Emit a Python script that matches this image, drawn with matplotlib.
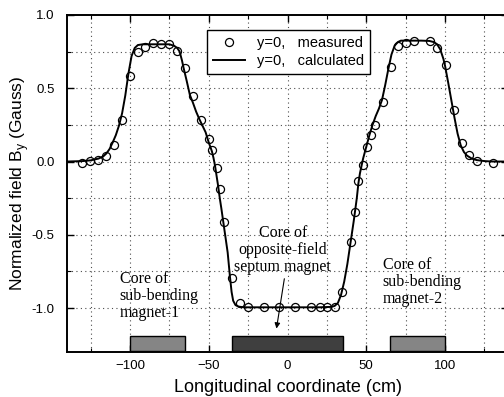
"""Normalized field B_y along the longitudinal coordinate."""

import matplotlib
matplotlib.use("agg")
import matplotlib.pyplot as plt
from matplotlib.patches import Rectangle
from matplotlib.ticker import MultipleLocator, FixedLocator, FormatStrFormatter

plt.rcParams["font.family"] = ["Liberation Sans", "DejaVu Sans"]

# measured points (cm, Gauss normalized)
meas_x = [-130.5, -125.5, -120.4, -115.3, -110.2, -105.1, -100.2, -95.1, -90.2,
          -85.2, -80.1, -75.0, -70.1, -65.2, -60.1, -55.0, -50.0, -47.7, -44.8,
          -42.7, -40.3, -35.2, -30.1, -24.9, -15.1, -5.1, 4.9, 15.1, 20.4, 25.3,
          30.0, 34.8, 40.1, 42.9, 45.0, 47.7, 50.4, 52.8, 55.5, 60.4, 65.4, 70.2,
          75.2, 80.4, 90.4, 95.2, 100.6, 105.4, 110.5, 115.4, 120.4, 130.4]
meas_y = [-0.007, 0.005, 0.009, 0.038, 0.11, 0.28, 0.587, 0.75, 0.78,
          0.81, 0.805, 0.80, 0.753, 0.638, 0.449, 0.28, 0.155, 0.079, -0.045,
          -0.185, -0.41, -0.795, -0.967, -0.996, -0.996, -0.996, -0.996, -0.996, -0.996, -0.996,
          -0.99, -0.891, -0.547, -0.345, -0.131, -0.023, 0.099, 0.178, 0.249, 0.406, 0.644, 0.787,
          0.811, 0.821, 0.821, 0.775, 0.66, 0.351, 0.127, 0.042, 0.005, -0.011]

# calculated curve
calc_x = [-140, -130, -125, -120, -117, -115, -113, -111, -109, -107, -105, -103,
          -101, -99, -97, -95, -92, -85, -80, -75, -72, -70, -68.5, -67, -66, -64,
          -62, -60, -58, -56, -54, -52, -50, -48, -47, -46, -45, -44, -43, -42, -40,
          -38, -36.5, -35.5, -34.5, -33, -31, -28, -20, 0, 20, 28, 30, 32, 34, 36,
          38, 40, 42, 44, 45, 46, 47, 48, 50, 52, 54, 56, 58, 60, 62, 64, 66, 68,
          70, 72, 75, 80, 85, 90, 93, 95, 97, 99, 100, 102, 104, 106, 108, 110,
          112, 114, 117, 120, 125, 130, 140]
calc_y = [0.0, 0.003, 0.008, 0.02, 0.035, 0.055, 0.085, 0.13, 0.18, 0.245, 0.33, 0.45,
          0.60, 0.72, 0.775, 0.795, 0.80, 0.80, 0.80, 0.80, 0.79, 0.775, 0.75, 0.69, 0.64, 0.55,
          0.455, 0.40, 0.34, 0.29, 0.245, 0.20, 0.13, 0.07, 0.025, -0.03, -0.10, -0.17, -0.25, -0.32, -0.47,
          -0.62, -0.79, -0.89, -0.95, -0.98, -0.99, -0.995, -0.995, -0.995, -0.995, -0.992, -0.985, -0.965, -0.91, -0.82,
          -0.70, -0.555, -0.41, -0.25, -0.15, -0.08, -0.03, 0.02, 0.10, 0.18, 0.25, 0.31, 0.36, 0.42, 0.52, 0.63, 0.73, 0.79,
          0.815, 0.825, 0.825, 0.825, 0.825, 0.823, 0.815, 0.80, 0.765, 0.70, 0.655, 0.54, 0.42, 0.30, 0.19, 0.11,
          0.065, 0.04, 0.02, 0.01, 0.003, 0.0, 0.0]

# magnet cores: (start, end, colour)
core_start = [-100, -35, 65]
core_end = [-65, 35, 100]
core_color = ["#858585", "#3f3f3f", "#858585"]
core_bottom, core_top = -1.29, -1.19

core_labels = ["Core of\nsub-bending\nmagnet-1",
               "Core of\nopposite-field\nseptum magnet",
               "Core of\nsub-bending\nmagnet-2"]

fig = plt.figure(figsize=(5.04, 3.97), dpi=100)
ax = fig.add_axes([67 / 504, 45 / 397, 441 / 504, 337 / 397])

ax.set_xlim(-140, 140)
ax.set_ylim(-1.3, 1.0)

ax.xaxis.set_major_locator(MultipleLocator(50))
ax.xaxis.set_minor_locator(MultipleLocator(25))
ax.yaxis.set_major_locator(MultipleLocator(0.5))
ax.yaxis.set_minor_locator(FixedLocator([-0.75, -0.25, 0.25, 0.75]))
ax.tick_params(which="both", direction="in", top=True, right=True, labelsize=9.5)
ax.tick_params(which="major", length=5, width=1.0)
ax.tick_params(which="minor", length=3, width=0.8)
ax.tick_params(axis="x", which="major", pad=6)
ax.tick_params(axis="y", which="major", pad=9)
ax.yaxis.set_major_formatter(FormatStrFormatter("%.1f"))
for sp in ax.spines.values():
    sp.set_linewidth(1.4)

for xg in range(-125, 140, 25):
    ax.axvline(xg, color="0.3", linestyle=(0, (1, 3)), lw=0.8, zorder=0)
for yg in [-1.0, -0.75, -0.5, -0.25, 0.0, 0.25, 0.5, 0.75]:
    ax.axhline(yg, color="0.3", linestyle=(0, (1, 3)), lw=0.8, zorder=0)

for x0, x1, c in zip(core_start, core_end, core_color):
    ax.add_patch(Rectangle((x0, core_bottom), x1 - x0, core_top - core_bottom,
                           facecolor=c, edgecolor="black", lw=1.0, zorder=2))

ax.plot(meas_x, meas_y, "o", ms=5.8, mfc="none", mec="black", mew=0.9,
        label="y=0,   measured", zorder=4)
ax.plot(calc_x, calc_y, "-", color="black", lw=1.4, label="y=0,   calculated", zorder=3)

serif = ["Liberation Serif", "DejaVu Serif"]
ax.text(-106.5, -0.745, core_labels[0], family=serif, fontsize=11.5, va="top",
        ha="left", linespacing=1.1)
ax.text(-3, -0.43, core_labels[1], family=serif, fontsize=11.5, va="top",
        ha="center", linespacing=1.1)
ax.text(60.5, -0.65, core_labels[2], family=serif, fontsize=11.5, va="top",
        ha="left", linespacing=1.1)
ax.annotate("", xy=(-7, -1.14), xytext=(-2, -0.80),
            arrowprops=dict(arrowstyle="-|>", color="black", lw=0.8,
                            mutation_scale=8, shrinkA=0, shrinkB=0))

leg = ax.legend(loc="upper center", bbox_to_anchor=(0.502, 1 - 15 / 337),
                borderaxespad=0, fontsize=10.5, fancybox=False, framealpha=1,
                edgecolor="black", handlelength=2.2, borderpad=0.4,
                labelspacing=0.3)
leg.get_frame().set_linewidth(1.0)

ax.set_xlabel("Longitudinal coordinate (cm)", fontsize=13, labelpad=5)
ax.set_ylabel(r"Normalized field B$_\mathregular{y}$ (Gauss)", fontsize=12.5, labelpad=0.5)

fig.savefig("out.png", dpi=100)
